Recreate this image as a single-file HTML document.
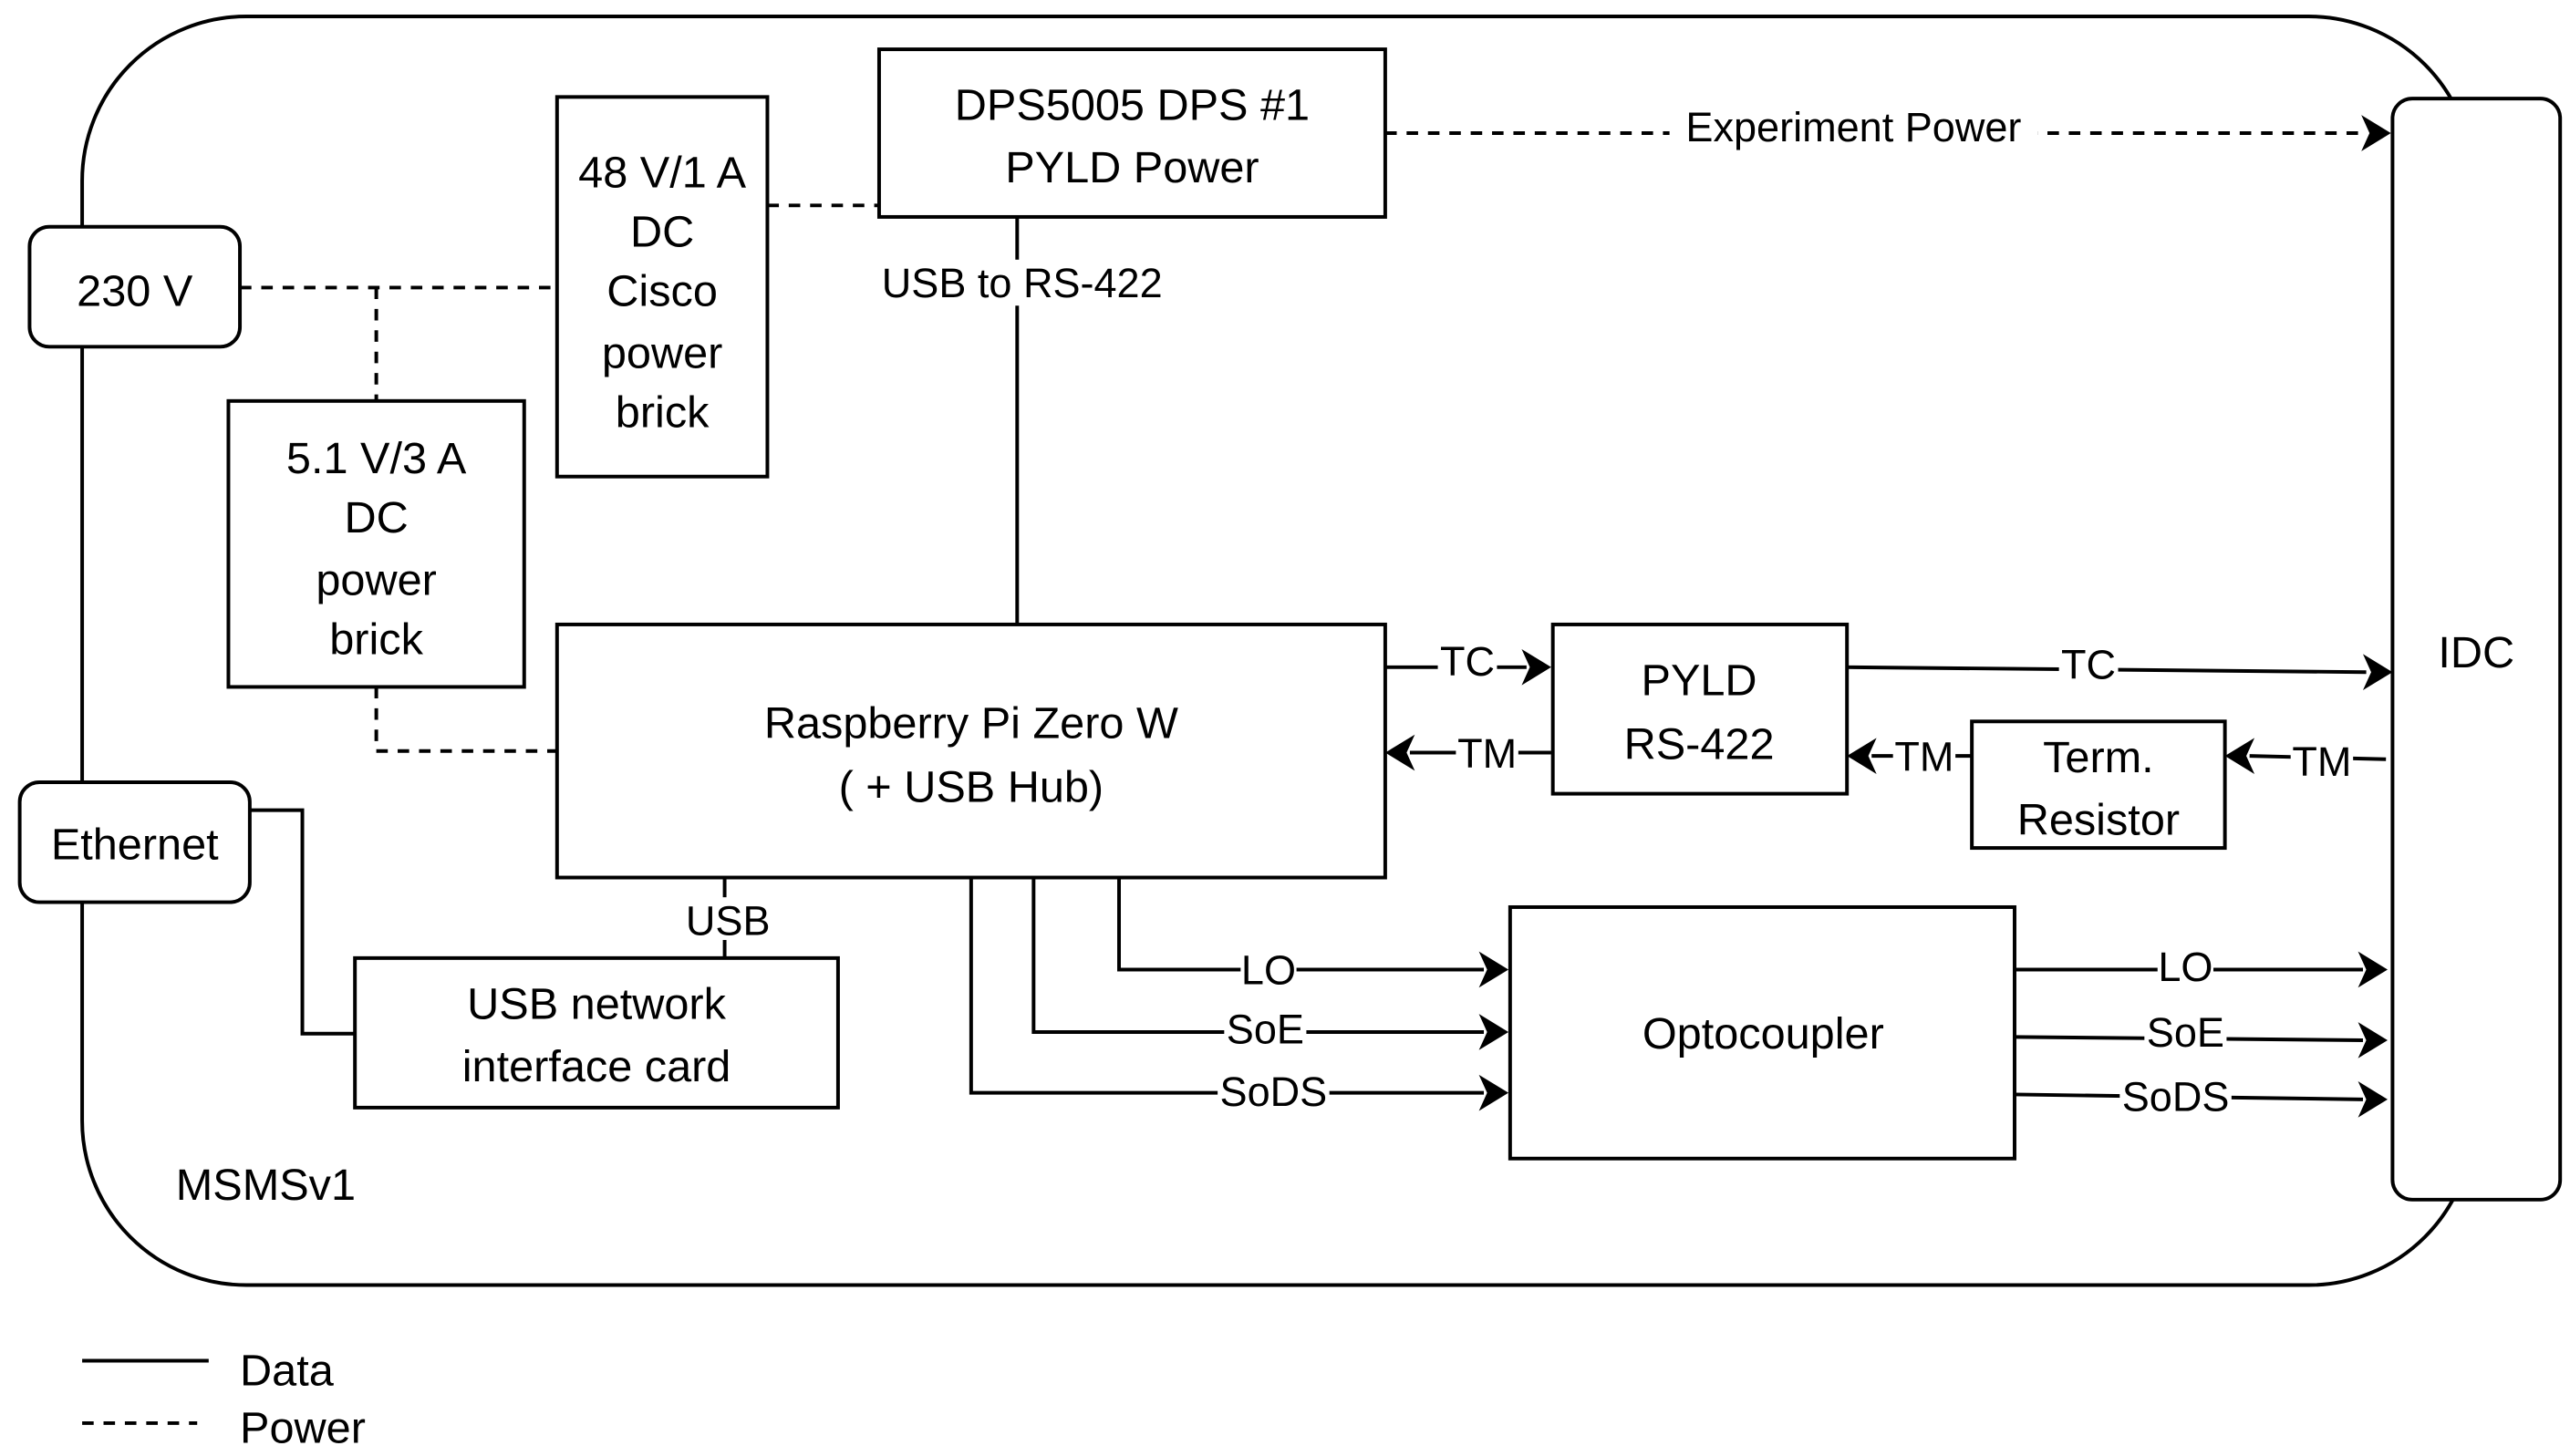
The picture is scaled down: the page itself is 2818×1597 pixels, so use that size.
<!DOCTYPE html>
<html><head><meta charset="utf-8"><style>
html,body{margin:0;padding:0;background:#fff;}
svg{display:block;}
text{font-family:"Liberation Sans",Arial,sans-serif;fill:#000;}
</style></head><body>
<svg width="2818" height="1597" viewBox="0 0 1564 886" preserveAspectRatio="none" xmlns="http://www.w3.org/2000/svg">
<g fill="none" stroke="#000" stroke-width="2.2">
<rect x="50" y="10" width="1455" height="772" rx="100"/>
</g>
<g fill="none" stroke="#000" stroke-width="2.2" stroke-dasharray="7,6">
<path d="M146,175 H338"/>
<path d="M229,175 V244"/>
<path d="M229,418 V457 H338"/>
<path d="M467,125 H535"/>
<path d="M843,81 H1440"/>
<path d="M50,866 H120"/>
</g>
<g fill="none" stroke="#000" stroke-width="2.2">
<path d="M619,132 V380"/>
<path d="M441,534 V583"/>
<path d="M152,493 H184 V629 H216"/>
<path d="M681,534 V590 H903"/>
<path d="M629,534 V628 H903"/>
<path d="M591,534 V665 H903"/>
<path d="M843,406 H929"/>
<path d="M944,458 H858"/>
<path d="M1124,406 L1440,409"/>
<path d="M1200,460 H1139"/>
<path d="M1452,462 L1369,460"/>
<path d="M1226,590 H1438"/>
<path d="M1226,631 L1438,633"/>
<path d="M1226,666 L1438,669"/>
<path d="M50,828 H127"/>
</g>
<g fill="#000">
<path d="M1437,70 L1455,81 L1437,92 L1442,81 Z"/>
<path d="M926,395 L944,406 L926,417 L931,406 Z"/>
<path d="M861,447 L843,458 L861,469 L856,458 Z"/>
<path d="M1438,398 L1456,409 L1438,420 L1443,409 Z"/>
<path d="M1142,449 L1124,460 L1142,471 L1137,460 Z"/>
<path d="M1372,449 L1354,460 L1372,471 L1367,460 Z"/>
<path d="M900,579 L918,590 L900,601 L905,590 Z"/>
<path d="M900,617 L918,628 L900,639 L905,628 Z"/>
<path d="M900,654 L918,665 L900,676 L905,665 Z"/>
<path d="M1435,579 L1453,590 L1435,601 L1440,590 Z"/>
<path d="M1435,622 L1453,633 L1435,644 L1440,633 Z"/>
<path d="M1435,658 L1453,669 L1435,680 L1440,669 Z"/>
</g>
<g fill="#fff" stroke="#000" stroke-width="2.2">
<rect x="18" y="138" width="128" height="73" rx="12"/>
<rect x="12" y="476" width="140" height="73" rx="12"/>
<rect x="139" y="244" width="180" height="174"/>
<rect x="339" y="59" width="128" height="231"/>
<rect x="535" y="30" width="308" height="102"/>
<rect x="339" y="380" width="504" height="154"/>
<rect x="945" y="380" width="179" height="103"/>
<rect x="1200" y="439" width="154" height="77"/>
<rect x="216" y="583" width="294" height="91"/>
<rect x="919" y="552" width="307" height="153"/>
<rect x="1456" y="60" width="102" height="670" rx="12"/>
</g>
<g font-size="27" text-anchor="middle">
<text x="82" y="186">230 V</text>
<text x="82" y="523">Ethernet</text>
<text x="229" y="288">5.1 V/3 A</text>
<text x="229" y="324">DC</text>
<text x="229" y="362">power</text>
<text x="229" y="398">brick</text>
<text x="403" y="114">48 V/1 A</text>
<text x="403" y="150">DC</text>
<text x="403" y="186">Cisco</text>
<text x="403" y="224">power</text>
<text x="403" y="260">brick</text>
<text x="689" y="73">DPS5005 DPS #1</text>
<text x="689" y="111">PYLD Power</text>
<text x="591" y="449">Raspberry Pi Zero W</text>
<text x="591" y="488">( + USB Hub)</text>
<text x="1034" y="423">PYLD</text>
<text x="1034" y="462">RS-422</text>
<text x="1277" y="470">Term.</text>
<text x="1277" y="508">Resistor</text>
<text x="363" y="620">USB network</text>
<text x="363" y="658">interface card</text>
<text x="1073" y="638">Optocoupler</text>
<text x="1507" y="406">IDC</text>
</g>
<g font-size="25" text-anchor="middle">
<rect x="1016" y="64" width="224" height="26" fill="#fff"/>
<text x="1128" y="86">Experiment Power</text>
<rect x="526" y="158" width="192" height="28" fill="#fff"/>
<text x="622" y="181">USB to RS-422</text>
<rect x="415" y="546" width="56" height="26" fill="#fff"/>
<text x="443" y="569">USB</text>
<rect x="875" y="390" width="36" height="24" fill="#fff"/>
<text x="893" y="411">TC</text>
<rect x="886" y="446" width="38" height="24" fill="#fff"/>
<text x="905" y="467">TM</text>
<rect x="1253" y="392" width="36" height="24" fill="#fff"/>
<text x="1271" y="413">TC</text>
<rect x="1152" y="448" width="38" height="24" fill="#fff"/>
<text x="1171" y="469">TM</text>
<rect x="1394" y="451" width="38" height="24" fill="#fff"/>
<text x="1413" y="472">TM</text>
<rect x="755" y="578" width="34" height="24" fill="#fff"/>
<text x="772" y="599">LO</text>
<rect x="745" y="614" width="50" height="24" fill="#fff"/>
<text x="770" y="635">SoE</text>
<rect x="741" y="652" width="68" height="24" fill="#fff"/>
<text x="775" y="673">SoDS</text>
<rect x="1313" y="576" width="34" height="24" fill="#fff"/>
<text x="1330" y="597">LO</text>
<rect x="1305" y="616" width="50" height="24" fill="#fff"/>
<text x="1330" y="637">SoE</text>
<rect x="1290" y="655" width="68" height="24" fill="#fff"/>
<text x="1324" y="676">SoDS</text>
</g>
<g font-size="27">
<text x="107" y="730">MSMSv1</text>
<text x="146" y="843">Data</text>
<text x="146" y="878">Power</text>
</g>
</svg>
</body></html>
